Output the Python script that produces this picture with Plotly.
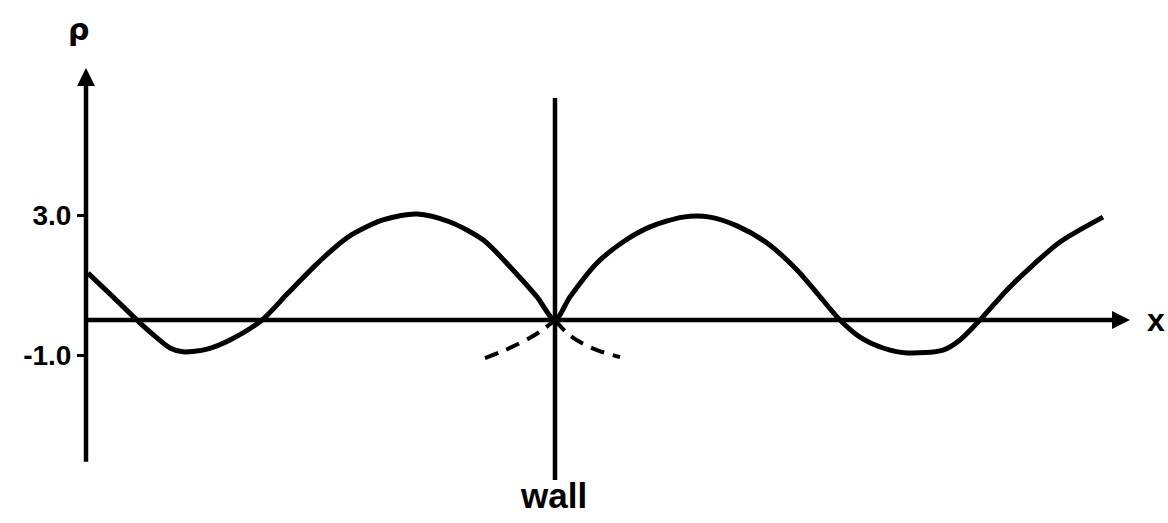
import plotly.graph_objects as go

# Main density profile rho(x); wall at x = 0
x_main = [-4.67, -4.42, -4.17, -3.98, -3.85, -3.72, -3.48, -3.25, -2.93, -2.67,
          -2.35, -2.07, -1.72, -1.38, -1.05, -0.72, -0.42, -0.18, 0.0, 0.15,
          0.42, 0.68, 0.95, 1.28, 1.55, 1.82, 2.12, 2.42, 2.62, 2.85,
          3.05, 3.28, 3.52, 3.88, 4.05, 4.25, 4.52, 4.78, 5.05, 5.48]
rho_main = [1.34, 0.66, -0.03, -0.51, -0.80, -0.91, -0.83, -0.57, 0.0, 0.77,
            1.69, 2.37, 2.86, 3.03, 2.80, 2.29, 1.43, 0.66, 0.0, 0.66,
            1.63, 2.23, 2.66, 2.94, 2.94, 2.69, 2.20, 1.43, 0.77, 0.0,
            -0.49, -0.80, -0.94, -0.86, -0.57, 0.0, 0.86, 1.57, 2.23, 2.94]

# Dashed continuations at the wall
x_dash_left = [-0.70, -0.50, -0.25, -0.10, 0.0]
rho_dash_left = [-1.09, -0.86, -0.51, -0.23, 0.0]
x_dash_right = [0.0, 0.12, 0.25, 0.42, 0.65]
rho_dash_right = [0.0, -0.37, -0.63, -0.86, -1.06]

tick_vals = [3.0, -1.0]
tick_text = ["<b>3.0</b>", "<b>-1.0</b>"]

# axis extents (data units)
x_axis_start, x_axis_end = -4.69, 5.75
y_axis_bottom, y_axis_top = -4.09, 7.2
wall_bottom, wall_top = -4.57, 6.34

fig = go.Figure()
fig.add_trace(go.Scatter(x=x_main, y=rho_main, mode="lines",
                         line=dict(color="black", width=5, shape="spline", smoothing=0.8),
                         hoverinfo="skip", showlegend=False))
for xs, ys in [(x_dash_left, rho_dash_left), (x_dash_right, rho_dash_right)]:
    fig.add_trace(go.Scatter(x=xs, y=ys, mode="lines",
                             line=dict(color="black", width=4, dash="14px,9px", shape="spline"),
                             hoverinfo="skip", showlegend=False))

# wall
fig.add_shape(type="line", x0=0, x1=0, y0=wall_bottom, y1=wall_top,
              xref="x", yref="y", line=dict(color="black", width=4.5))
# y axis line (with arrow)
fig.add_annotation(x=x_axis_start, y=y_axis_top, ax=x_axis_start, ay=y_axis_bottom,
                   xref="x", yref="y", axref="x", ayref="y", text="",
                   showarrow=True, arrowhead=2, arrowsize=0.8, arrowwidth=4.5, arrowcolor="black")
# x axis line (with arrow)
fig.add_annotation(x=x_axis_end, y=0, ax=x_axis_start, ay=0,
                   xref="x", yref="y", axref="x", ayref="y", text="",
                   showarrow=True, arrowhead=2, arrowsize=0.8, arrowwidth=4.5, arrowcolor="black")

fig.add_annotation(x=-4.77, y=8.3, text="<b>ρ</b>", showarrow=False,
                   font=dict(family="DejaVu Sans", size=30, color="black"))
fig.add_annotation(x=-0.02, y=-5.0, text="<b>wall</b>", showarrow=False,
                   font=dict(family="Liberation Sans", size=35, color="black"))
fig.add_annotation(x=6.01, y=0, text="<b>x</b>", showarrow=False,
                   font=dict(family="Liberation Sans", size=32, color="black"))

fig.update_layout(
    width=1168, height=523,
    margin=dict(l=0, r=0, t=0, b=0, pad=0),
    paper_bgcolor="white", plot_bgcolor="white",
    xaxis=dict(range=[-5.55, 6.13], visible=False, fixedrange=True),
    yaxis=dict(range=[-5.8, 9.143], anchor="free", position=86 / 1168,
               showline=False, showgrid=False, zeroline=False,
               tickmode="array", tickvals=tick_vals, ticktext=tick_text,
               ticks="outside", ticklen=9, tickwidth=3, tickcolor="black",
               tickfont=dict(family="Liberation Sans", size=28, color="black"),
               fixedrange=True),
)
fig.write_html("out.html", config={"displayModeBar": False},
               post_script="document.body.style.margin='0';document.body.style.overflow='hidden';")
